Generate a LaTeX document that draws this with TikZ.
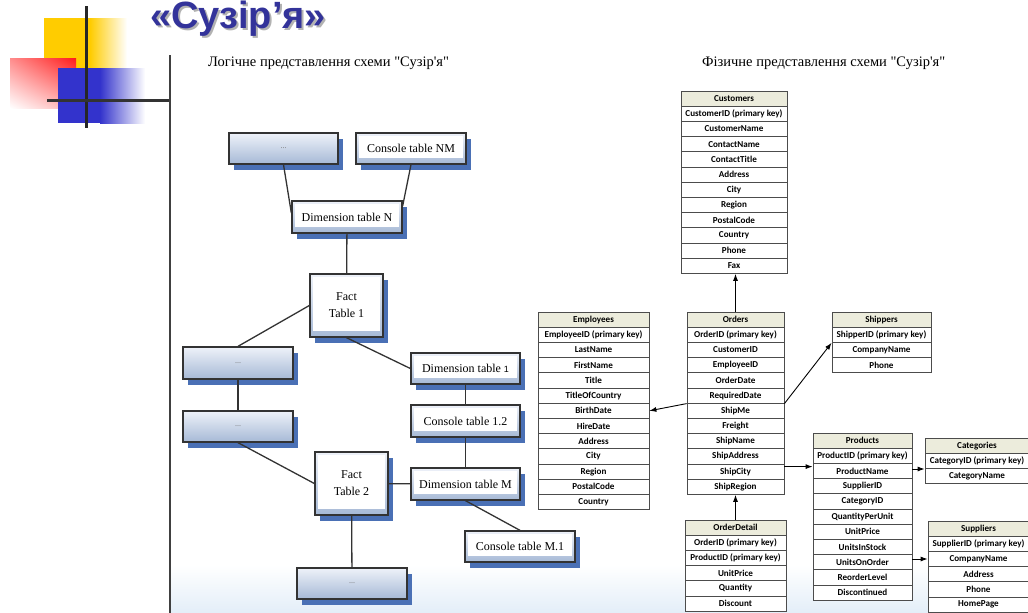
\documentclass[tikz,border=0pt]{standalone}
\usepackage{fontspec}
\setmainfont{Liberation Serif}[Ligatures=TeXOff]
\newfontfamily\titlefont{Liberation Sans}
\newfontfamily\labelsans{Liberation Sans}
\newfontfamily\fieldfont{Carlito}
\usetikzlibrary{positioning,shadows,shadings,arrows.meta}

\definecolor{titleblue}{HTML}{33339A}
\definecolor{boxtop}{HTML}{EEF2F9}
\definecolor{boxbot}{HTML}{A6B9D6}
\definecolor{shadeblue}{HTML}{4A70B5}
\definecolor{hdrfill}{HTML}{ECECDC}
\definecolor{decoyellow}{HTML}{FFCC00}
\definecolor{decored}{HTML}{FF1A1A}
\definecolor{decoblue}{HTML}{3333CC}
\definecolor{floorblue}{HTML}{E3EEF8}

\tikzset{
  lbox/.style={draw=black!80, line width=1.3pt, top color=boxtop, bottom color=boxbot,
    inner sep=0pt, font=\fontsize{12}{17}\selectfont,
    drop shadow={shadow xshift=5pt, shadow yshift=-6pt, fill=shadeblue, opacity=1}},
  dotbox/.style={lbox, minimum width=110pt, minimum height=31pt, text=black!55,
    font=\fontsize{8}{9}\selectfont},
  tbox/.style={lbox, minimum width=110pt, minimum height=31pt,
    path picture={\fill[white] ([xshift=2.5pt,yshift=-3pt]path picture bounding box.north west)
      rectangle ([xshift=-3pt,yshift=6pt]path picture bounding box.south east);}},
  factbox/.style={tbox, minimum width=73pt, minimum height=63pt, align=center},
  link/.style={line width=1.3pt, black!80},
  field/.style={draw=black!70, line width=0.8pt, fill=white, minimum height=15.2pt,
    inner sep=0pt, font=\fieldfont\bfseries\fontsize{9.1}{9.5}\selectfont},
  fhead/.style={field, fill=hdrfill},
  fk/.style={-{Latex[length=7pt,width=5pt]}, line width=0.9pt}
}

\begin{document}
\begin{tikzpicture}[x=1pt,y=-1pt]
\useasboundingbox (0,0) rectangle (1028,613);
% light floor under the diagrams
\shade[top color=white, bottom color=floorblue] (171,565) rectangle (1028,613);

% corner decoration
\fill[decoyellow] (44,18) rectangle (90,68);
\shade[left color=decoyellow, right color=white] (90,18) rectangle (127,68);
\shade[upper right=decored, upper left=decored!50, lower right=decored!35, lower left=white] (10,58) rectangle (76,108);
\fill[decoblue] (58,68) rectangle (100,123);
\shade[left color=decoblue, right color=white] (100,68) rectangle (145,123);
\draw[line width=3pt, black!85] (86,6) -- (86,128);
\draw[line width=3pt, black!80] (47,100) -- (170,100);
\draw[line width=1.2pt, black!75] (170,55) -- (170,613);

% title
\node[font=\titlefont\bfseries\fontsize{38}{38}\selectfont, text=black!30, anchor=base, inner sep=0pt] (title-shadow) at (240,30) {«Сузір’я»};
\node[font=\titlefont\bfseries\fontsize{38}{38}\selectfont, text=titleblue, anchor=base, inner sep=0pt] (title) at (238,28) {«Сузір’я»};

% headings
\node[font=\fontsize{14.5}{16}\selectfont, anchor=west, inner sep=0pt] (logic-head) at (208,63) {Логічне представлення схеми "Сузір'я"};
\node[font=\fontsize{14.5}{16}\selectfont, anchor=west, inner sep=0pt] (phys-head) at (702,63) {Фізичне представлення схеми "Сузір'я"};

% logical schema
\node[dotbox, minimum width=109pt] (dots-a) at (283.5,148.5) {...};
\node[tbox] (cons-nm) at (411,148.5) {Console table NM};
\node[tbox, minimum height=32pt] (dim-n) at (347,217) {Dimension table N};
\node[factbox] (fact-1) at (346.5,305.5) {Fact\\ Table 1};
\node[dotbox, minimum height=32pt] (dots-b) at (238,363) {...};
\node[dotbox] (dots-c) at (238,426.5) {...};
\node[tbox, minimum width=109pt] (dim-1) at (465.5,368.5) {Dimension table {\labelsans\fontsize{9}{10}\selectfont 1}};
\node[tbox, minimum width=109pt, minimum height=32pt] (cons-12) at (465.5,421) {Console table 1.2};
\node[tbox, minimum width=109pt, minimum height=32pt] (dim-m) at (465.5,484) {Dimension table M};
\node[factbox] (fact-2) at (351.5,483.5) {Fact\\ Table 2};
\node[tbox] (cons-m1) at (520,546.5) {Console table M.1};
\node[dotbox] (dots-d) at (352,583.5) {...};

\draw[link] (dots-a.south) -- ([yshift=4pt]dim-n.west);
\draw[link] (cons-nm.south) -- ([yshift=11pt]dim-n.east);
\draw[link] (dim-n) -- (fact-1);
\draw[link] (fact-1.west) -- (dots-b.north);
\draw[link] (fact-1.south) -- (dim-1.west);
\draw[link] (dots-b) -- (dots-c);
\draw[link] (dots-c.south) -- (fact-2.west);
\draw[link] (dim-1) -- (cons-12);
\draw[link] (cons-12) -- (dim-m);
\draw[link] (fact-2) -- (dim-m);
\draw[link] (dim-m.south) -- (cons-m1.north);
\draw[link] (fact-2) -- (dots-d);

% physical schema
\node[fhead, minimum width=106pt] (cust) at (734,98.6) {Customers};
\foreach \f [count=\i] in {CustomerID (primary key), CustomerName, ContactName, ContactTitle,
    Address, City, Region, PostalCode, Country, Phone, Fax}
  \node[field, minimum width=106pt] (cust-\i) at (734,98.6+15.2*\i) {\f};

\node[fhead, minimum width=111pt] (emp) at (593.5,319.6) {Employees};
\foreach \f [count=\i] in {EmployeeID (primary key), LastName, FirstName, Title, TitleOfCountry,
    BirthDate, HireDate, Address, City, Region, PostalCode, Country}
  \node[field, minimum width=111pt] (emp-\i) at (593.5,319.6+15.2*\i) {\f};

\node[fhead, minimum width=97pt] (ord) at (735.5,319.6) {Orders};
\foreach \f [count=\i] in {OrderID (primary key), CustomerID, EmployeeID, OrderDate, RequiredDate,
    ShipMe, Freight, ShipName, ShipAddress, ShipCity, ShipRegion}
  \node[field, minimum width=97pt] (ord-\i) at (735.5,319.6+15.2*\i) {\f};

\node[fhead, minimum width=99pt] (shp) at (881.5,319.6) {Shippers};
\foreach \f [count=\i] in {ShipperID (primary key), CompanyName, Phone}
  \node[field, minimum width=99pt] (shp-\i) at (881.5,319.6+15.2*\i) {\f};

\node[fhead, minimum width=99pt] (prd) at (862.5,440.6) {Products};
\foreach \f [count=\i] in {ProductID (primary key), ProductName, SupplierID, CategoryID,
    QuantityPerUnit, UnitPrice, UnitsInStock, UnitsOnOrder, ReorderLevel, Discontinued}
  \node[field, minimum width=99pt] (prd-\i) at (862.5,440.6+15.2*\i) {\f};

\node[fhead, minimum width=104pt] (cat) at (977,445.6) {Categories};
\foreach \f [count=\i] in {CategoryID (primary key), CategoryName}
  \node[field, minimum width=104pt] (cat-\i) at (977,445.6+15.2*\i) {\f};

\node[fhead, minimum width=101pt] (sup) at (978.5,528.6) {Suppliers};
\foreach \f [count=\i] in {SupplierID (primary key), CompanyName, Address, Phone, HomePage}
  \node[field, minimum width=101pt] (sup-\i) at (978.5,528.6+15.2*\i) {\f};

\node[fhead, minimum width=101pt] (odt) at (735.5,527.6) {OrderDetail};
\foreach \f [count=\i] in {OrderID (primary key), ProductID (primary key), UnitPrice, Quantity, Discount}
  \node[field, minimum width=101pt] (odt-\i) at (735.5,527.6+15.2*\i) {\f};

% references
\draw[fk] (ord.north) -- (ord.north |- cust-11.south);
\draw[fk] (ord-5.south west) -- (emp-6.east);
\draw[fk] (ord-5.south east) -- (shp-1.south west);
\draw[fk] ([yshift=5pt]ord-10.east) -- ([yshift=5pt]ord-10.east -| prd.west);
\draw[fk] ([yshift=2pt]prd-2.east) -- ([yshift=2pt]prd-2.east -| cat.west);
\draw[fk] (sup-2.west -| prd.east) -- (sup-2.west);
\draw[fk] (odt.north) -- (ord-11.south);
\end{tikzpicture}
\end{document}
